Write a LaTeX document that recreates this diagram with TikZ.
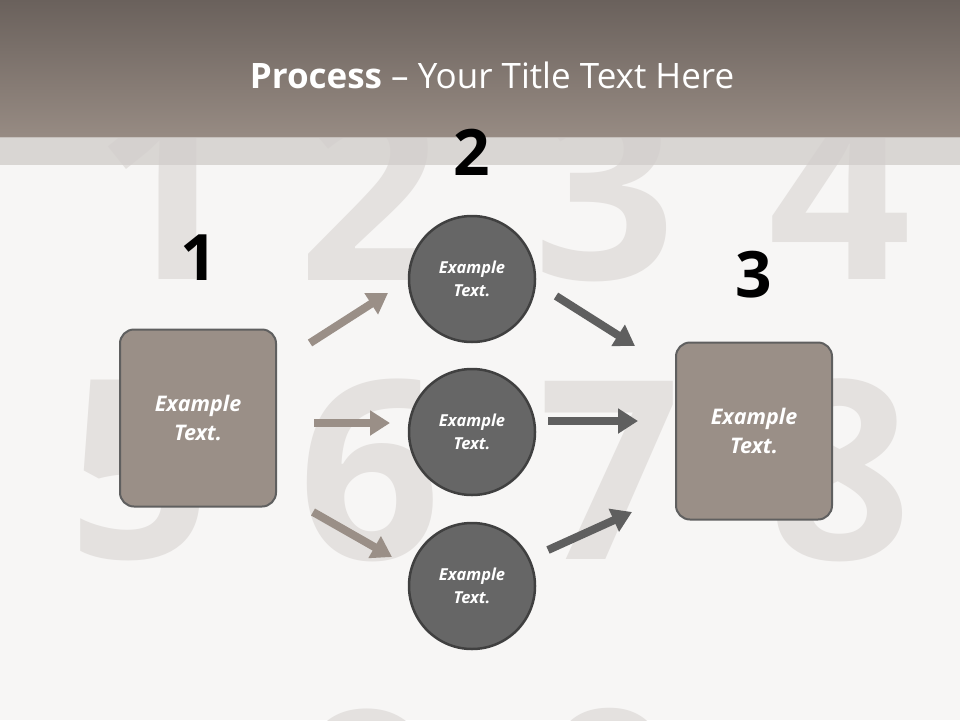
\documentclass[tikz,border=0pt]{standalone}
\usepackage{fontspec}
\setmainfont{Open Sans}
\usetikzlibrary{arrows.meta}
\definecolor{bg}{HTML}{F7F6F5}
\definecolor{hdA}{HTML}{6A615C}
\definecolor{hdB}{HTML}{978B83}
\definecolor{boxc}{HTML}{9A8F87}
\definecolor{circc}{HTML}{666666}
\definecolor{darkarr}{HTML}{5F5F5F}
\definecolor{ghost}{HTML}{E4E1DF}
\definecolor{ghostl}{HTML}{D2CECB}
\tikzset{
  x=1pt,y=-1pt,
  ghostnum/.style={text=ghost,font=\fontsize{250}{250}\selectfont\bfseries},
  rbox/.style={draw=darkarr,line width=2pt,fill=boxc,rounded corners=14pt,minimum width=156pt,minimum height=177pt,text=white,align=center,font=\fontsize{21.5}{29}\selectfont\bfseries\itshape},
  circ/.style={circle,draw=black!75,line width=2.5pt,fill=circc,minimum size=126pt,text=white,align=center,font=\fontsize{16.5}{23}\selectfont\bfseries\itshape},
  bignum/.style={font=\fontsize{64}{64}\selectfont\bfseries,text=black},
  larr/.style={line width=8pt,boxc,-{Triangle[length=20pt,width=24pt]}},
  darr/.style={line width=8pt,darkarr,-{Triangle[length=20pt,width=24pt]}}
}
\begin{document}
\begin{tikzpicture}
\fill[bg] (0,0) rectangle (960,720);
\useasboundingbox (0,0) rectangle (960,720);
% ghost numbers
\node[ghostnum] (g1) at (165,190) {1};
\node[ghostnum] (g2) at (370,190) {2};
\node[ghostnum] (g3) at (605,190) {3};
\node[ghostnum] (g4) at (840,190) {4};
\node[ghostnum] (g5) at (140,470) {5};
\node[ghostnum] (g6) at (370,470) {6};
\node[ghostnum] (g7) at (610,470) {7};
\node[ghostnum] (g8) at (840,470) {8};
\node[ghostnum] (g9) at (370,800) {9};
\node[ghostnum] (g0) at (610,800) {0};
% header
\shade[top color=hdA,bottom color=hdB] (0,0) rectangle (960,137);
\fill[ghostl,opacity=0.8] (0,137) rectangle (960,165);
\node[text=white,font=\fontsize{35}{40}\selectfont] (title) at (492,75) {\textbf{Process} -- Your Title Text Here};
% numbers
\node[bignum] (n1) at (199,258) {1};
\node[bignum] (n2) at (472,152) {2};
\node[bignum] (n3) at (754,275) {3};
% boxes
\node[rbox] (b1) at (198,418) {Example\\Text.};
\node[rbox] (b3) at (754,431) {Example\\Text.};
\node[circ] (c1) at (472,279) {Example\\Text.};
\node[circ] (c2) at (472,432) {Example\\Text.};
\node[circ] (c3) at (472,586) {Example\\Text.};
% arrows
\coordinate (a1s) at (310,343); \coordinate (a1e) at (388,293);
\coordinate (a2s) at (314,423); \coordinate (a2e) at (390,423);
\coordinate (a3s) at (313,512); \coordinate (a3e) at (392,557);
\coordinate (a4s) at (556,296); \coordinate (a4e) at (635,346);
\coordinate (a5s) at (548,421); \coordinate (a5e) at (638,421);
\coordinate (a6s) at (548,550); \coordinate (a6e) at (632,512);
\draw[larr] (a1s) -- (a1e);
\draw[larr] (a2s) -- (a2e);
\draw[larr] (a3s) -- (a3e);
\draw[darr] (a4s) -- (a4e);
\draw[darr] (a5s) -- (a5e);
\draw[darr] (a6s) -- (a6e);
\end{tikzpicture}
\end{document}
